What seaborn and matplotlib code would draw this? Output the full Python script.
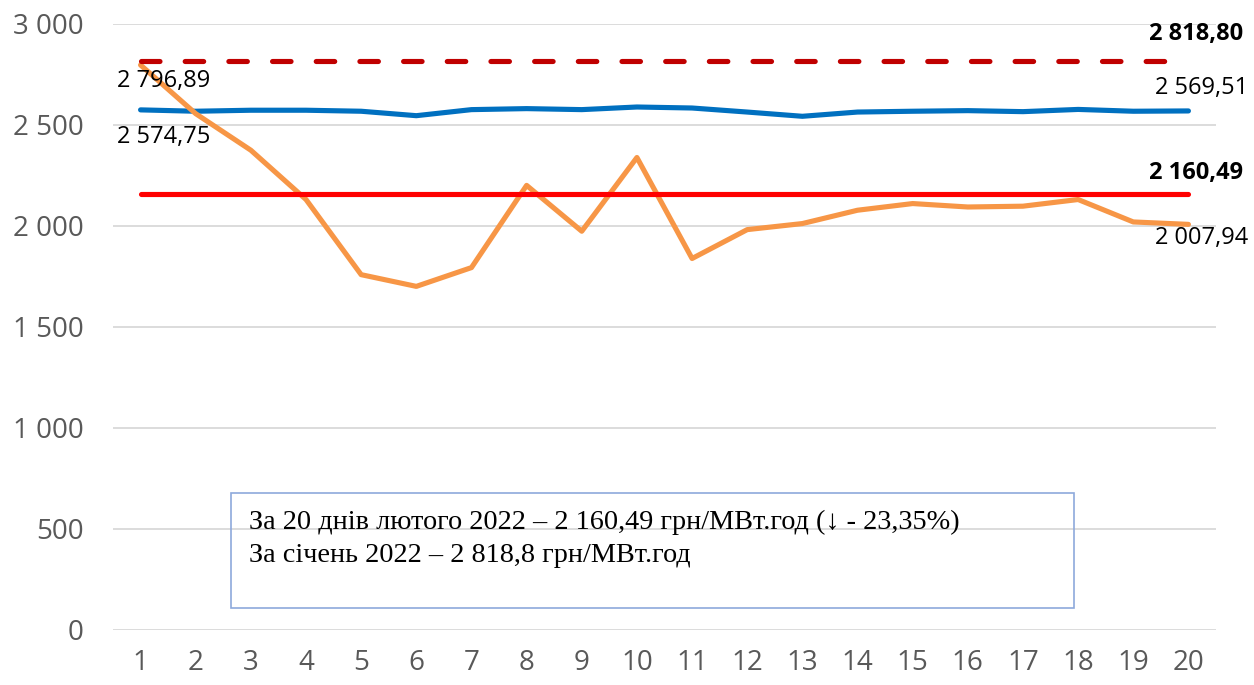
import matplotlib
matplotlib.use("Agg")
import matplotlib.pyplot as plt
import seaborn as sns
import pandas as pd
from matplotlib.patches import Rectangle
from matplotlib.ticker import FuncFormatter

# ---- data ----
days = list(range(1, 21))
feb_daily = [2796.89, 2556, 2375, 2131, 1759, 1701, 1794, 2201, 1974, 2339,
             1839, 1982, 2012, 2078, 2111, 2094, 2098, 2131, 2020, 2007.94]
jan_level = [2574.75, 2568, 2573, 2573, 2568, 2546, 2576, 2581, 2576, 2589,
             2584, 2564, 2543, 2564, 2568, 2571, 2566, 2577, 2568, 2569.51]
feb_avg = 2160.49
jan_avg = 2818.80
y_ticks = [0, 500, 1000, 1500, 2000, 2500, 3000]
box_lines = ["За 20 днів лютого 2022 – 2 160,49 грн/МВт.год (↓ - 23,35%)",
             "За січень 2022 – 2 818,8 грн/МВт.год"]

sns.set_theme(style="white")
plt.rcParams['font.family'] = ['Open Sans', 'DejaVu Sans']

df = pd.DataFrame({"day": days, "feb": feb_daily, "blue": jan_level,
                   "feb_avg": [feb_avg] * len(days), "jan_avg": [jan_avg] * len(days)})

fig = plt.figure(figsize=(12.54, 6.85), dpi=100)
ax = fig.add_axes([0.0901, 0.0803, 0.8796, 0.8847])

sns.lineplot(data=df, x="day", y="blue", ax=ax, color="#0070C0", linewidth=3.7,
             solid_capstyle="round", zorder=3)
sns.lineplot(data=df, x="day", y="feb", ax=ax, color="#F79646", linewidth=3.7,
             solid_capstyle="round", zorder=3)
sns.lineplot(data=df, x="day", y="feb_avg", ax=ax, color="#FF0000", linewidth=3.7,
             solid_capstyle="round", zorder=4)
sns.lineplot(data=df, x="day", y="jan_avg", ax=ax, color="#C00000", linewidth=3.7, zorder=4)
line = ax.get_lines()[-1]
line.set_dashes((3.6, 4.9))
line.set_dash_capstyle("round")

ax.set_xlim(0.5, 20.5)
ax.set_ylim(0, 3000)
ax.set_xticks(days)
ax.set_yticks(y_ticks)
ax.yaxis.set_major_formatter(FuncFormatter(lambda v, p: f"{v:,.0f}".replace(",", " ")))
ax.grid(axis="y", color="#D9D9D9", linewidth=1.3)
ax.grid(axis="x", visible=False)
for s in ax.spines.values():
    s.set_visible(False)
ax.tick_params(axis="both", length=0, labelsize=20, colors="#595959")
ax.tick_params(axis="y", pad=21)
ax.tick_params(axis="x", pad=14)
ax.set_xlabel("")
ax.set_ylabel("")

def fmt(v):
    return f"{v:,.2f}".replace(",", " ").replace(".", ",")

labels = [
    (days[0], feb_daily[0], fmt(feb_daily[0]), (23, -16), "normal"),
    (days[0], jan_level[0], fmt(jan_level[0]), (23, -27), "normal"),
    (days[-1], jan_level[-1], fmt(jan_level[-1]), (13, 23), "normal"),
    (days[-1], feb_daily[-1], fmt(feb_daily[-1]), (13, -14), "normal"),
    (days[-1], feb_avg, fmt(feb_avg), (8, 21), "bold"),
    (days[-1], jan_avg, fmt(jan_avg), (8, 27), "bold"),
]
for x, y, t, off, w in labels:
    ax.annotate(t, xy=(x, y), xytext=off, textcoords="offset pixels",
                ha="center", va="center", fontsize=17, fontweight=w,
                color="black", annotation_clip=False, zorder=6)

fig.patches.append(Rectangle((231 / 1254, 1 - 608 / 685), (1074 - 231) / 1254,
                             (608 - 493) / 685, transform=fig.transFigure,
                             fill=False, edgecolor="#8EA9DB", linewidth=1.2, zorder=10))
fig.text(249 / 1254, 1 - 522 / 685, box_lines[0], ha="left", va="center",
         fontsize=20.3, family=["Liberation Serif", "DejaVu Serif"], color="black")
fig.text(249 / 1254, 1 - 555 / 685, box_lines[1], ha="left", va="center",
         fontsize=20.3, family=["Liberation Serif", "DejaVu Serif"], color="black")

fig.savefig("out.png", dpi=100)
